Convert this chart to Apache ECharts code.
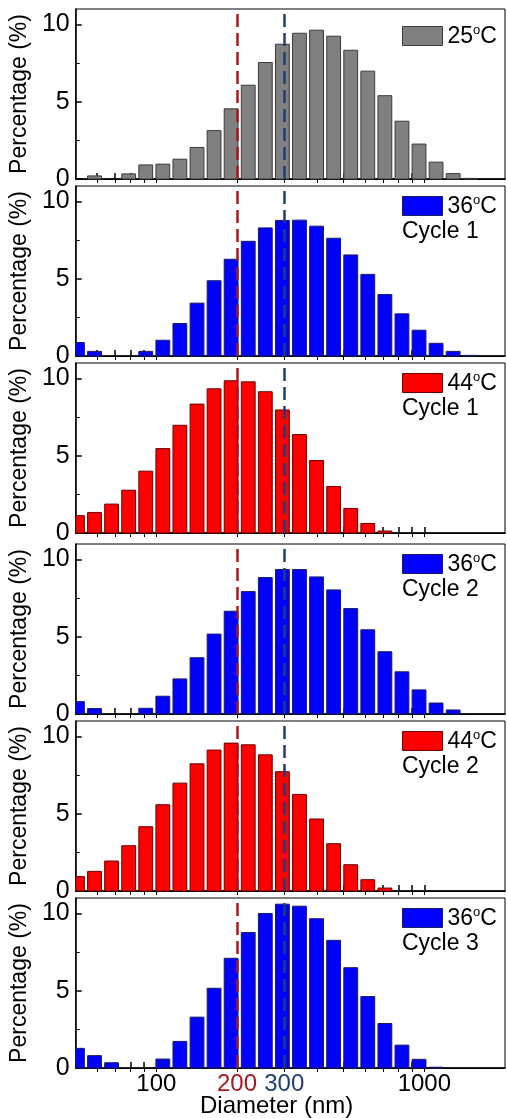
<!DOCTYPE html>
<html>
<head>
<meta charset="utf-8">
<script src="https://cdn.jsdelivr.net/npm/echarts@6/dist/echarts.min.js"></script>
<style>
  html, body { margin: 0; padding: 0; background: #fff; }
  #chart { width: 507px; height: 1118px; }
</style>
</head>
<body>
<div id="chart"></div>
<script>
  // bin centres (nm), log spaced
  const sizes = [50.75, 58.77, 68.06, 78.82, 91.28, 105.7, 122.4, 141.8, 164.2, 190.1, 220.2, 255.0,
    295.3, 342.0, 396.1, 458.7, 531.2, 615.1, 712.4, 825.0, 955.4, 1106, 1281, 1484];

  const t25 = [0, 0.2, 0, 0.33, 0.91, 0.96, 1.28, 2.04, 3.13, 4.54, 6.07, 7.54, 8.72, 9.43, 9.63, 9.24, 8.33, 6.98, 5.39, 3.74, 2.26, 1.09, 0.35, 0.04];
  const t36c1 = [0.87, 0.30, 0, 0, 0.30, 1.02, 2.1, 3.42, 4.87, 6.26, 7.42, 8.29, 8.77, 8.79, 8.4, 7.62, 6.54, 5.28, 3.98, 2.73, 1.67, 0.82, 0.30, 0.04];
  const t44c1 = [1.12, 1.33, 1.87, 2.77, 4.0, 5.46, 6.97, 8.34, 9.33, 9.85, 9.78, 9.14, 7.96, 6.37, 4.69, 3.01, 1.59, 0.62, 0.13, 0, 0, 0, 0, 0];
  const t36c2 = [0.8, 0.35, 0, 0, 0.37, 1.15, 2.27, 3.64, 5.17, 6.65, 7.92, 8.83, 9.35, 9.35, 8.87, 8.03, 6.82, 5.45, 4.03, 2.73, 1.56, 0.71, 0.26, 0];
  const t44c2 = [0.93, 1.27, 1.94, 2.93, 4.16, 5.58, 6.98, 8.23, 9.12, 9.57, 9.46, 8.81, 7.72, 6.25, 4.66, 3.06, 1.70, 0.73, 0.19, 0, 0, 0, 0, 0];
  const t36c3 = [1.27, 0.8, 0.34, 0, 0, 0.58, 1.72, 3.29, 5.16, 7.1, 8.77, 10.0, 10.6, 10.47, 9.66, 8.26, 6.49, 4.62, 2.88, 1.48, 0.56, 0.05, 0, 0];

  const xTicks = [60, 70, 80, 90, 100, 200, 300, 400, 500, 600, 700, 800, 900, 1000];
  const xLabels = [100, 200, 300, 1000];
  const yTicks = [0, 5, 10];
  const yMinorTicks = [2.5, 7.5];
  const markers = [200, 300];

  const panels = [
    { temp: '25', cycle: '', data: t25, fill: '#808080', edge: '#3a3a3a' },
    { temp: '36', cycle: 'Cycle 1', data: t36c1, fill: '#0000ff', edge: '#1a1a66' },
    { temp: '44', cycle: 'Cycle 1', data: t44c1, fill: '#ff0000', edge: '#6a0000' },
    { temp: '36', cycle: 'Cycle 2', data: t36c2, fill: '#0000ff', edge: '#1a1a66' },
    { temp: '44', cycle: 'Cycle 2', data: t44c2, fill: '#ff0000', edge: '#6a0000' },
    { temp: '36', cycle: 'Cycle 3', data: t36c3, fill: '#0000ff', edge: '#1a1a66' }
  ];
  const tops = [9, 186, 363, 544, 721, 898];
  const H = 170;
  const FONT = "'Liberation Sans', Arial, sans-serif";
  const HALF = 0.0637 * 0.405; // half bar width in log10 units

  const grid = [], xAxis = [], yAxis = [], series = [], legend = [], graphic = [];

  panels.forEach((p, i) => {
    const last = i === panels.length - 1;
    grid.push({ left: 74, right: 2, top: tops[i], height: H, show: true, borderColor: '#000', borderWidth: 1 });
    // bottom
    xAxis.push({
      type: 'log', gridIndex: i, min: 50, max: 2000, position: 'bottom',
      axisLine: { lineStyle: { color: '#000', width: 1.5 } },
      axisTick: { inside: true, length: 6, customValues: xTicks, lineStyle: { color: '#000', width: 1.5 } },
      axisLabel: {
        show: last, customValues: xLabels, margin: 4, fontSize: 24, fontFamily: FONT, color: '#000',
        formatter: v => v === 200 ? '{r|200}' : v === 300 ? '{b|300}' : String(v),
        rich: {
          r: { color: '#a8181c', fontSize: 24, fontFamily: FONT },
          b: { color: '#1f3d7a', fontSize: 24, fontFamily: FONT }
        }
      },
      splitLine: { show: false }
    });
    // top mirror
    xAxis.push({
      type: 'log', gridIndex: i, min: 50, max: 2000, position: 'top',
      axisLine: { lineStyle: { color: '#000', width: 1 } },
      axisTick: { inside: true, length: 4, customValues: xTicks, lineStyle: { color: '#000' } },
      axisLabel: { show: false }, splitLine: { show: false }
    });
    yAxis.push({
      type: 'value', gridIndex: i, min: 0, max: 11,
      name: 'Percentage (%)', nameLocation: 'middle', nameGap: 42,
      nameTextStyle: { fontSize: 23, fontFamily: FONT, color: '#000' },
      axisLine: { lineStyle: { color: '#000', width: 1.5 } },
      axisTick: { inside: true, length: 6, customValues: yTicks, lineStyle: { color: '#000', width: 1.5 } },
      axisLabel: { customValues: yTicks, margin: 6, fontSize: 25, fontFamily: FONT, color: '#000' },
      splitLine: { show: false }
    });
    yAxis.push({
      type: 'value', gridIndex: i, min: 0, max: 11, position: 'left',
      axisLine: { show: false },
      axisTick: { inside: true, length: 4, customValues: yMinorTicks, lineStyle: { color: '#000' } },
      axisLabel: { show: false }, splitLine: { show: false }
    });

    const name = p.temp + '°C' + (p.cycle ? ' ' + p.cycle : '');
    series.push({
      type: 'custom', name: name,
      xAxisIndex: i * 2, yAxisIndex: i * 2,
      data: sizes.map((s, k) => [s, p.data[k]]),
      itemStyle: { color: p.fill, borderColor: p.edge },
      renderItem: (params, api) => {
        const c = api.value(0), v = api.value(1);
        if (!v) return null;
        const p0 = api.coord([c * Math.pow(10, -HALF), 0]);
        const p1 = api.coord([c * Math.pow(10, HALF), v]);
        const cs = params.coordSys;
        const shape = echarts.graphic.clipRectByRect(
          { x: p0[0], y: p1[1], width: p1[0] - p0[0], height: p0[1] - p1[1] },
          { x: cs.x, y: cs.y, width: cs.width, height: cs.height }
        );
        if (!shape) return null;
        return { type: 'rect', shape: shape, style: { fill: p.fill, stroke: p.edge, lineWidth: 1 } };
      },
      markLine: {
        silent: true, symbol: 'none', label: { show: false },
        data: [
          { xAxis: markers[0], lineStyle: { color: '#a8181c', type: [13, 6], width: 2.5 } },
          { xAxis: markers[1], lineStyle: { color: '#1f3d7a', type: [13, 6], width: 2.5 } }
        ]
      },
      z: 2
    });

    legend.push({
      data: [{ name: name, icon: 'rect', itemStyle: { color: p.fill, borderColor: p.edge, borderWidth: 1 } }],
      left: 402, top: tops[i] + (i === 0 ? 15 : 8), padding: 0,
      itemWidth: 40, itemHeight: 19, selectedMode: false,
      formatter: () => '{t|' + p.temp + '}{s|o}{t|C}',
      textStyle: {
        fontSize: 23, fontFamily: FONT, color: '#000',
        rich: {
          t: { fontSize: 23, fontFamily: FONT, color: '#000', verticalAlign: 'bottom', lineHeight: 24 },
          s: { fontSize: 13, fontFamily: FONT, color: '#000', verticalAlign: 'top', lineHeight: 24 }
        }
      }
    });
    if (p.cycle) {
      graphic.push({
        type: 'text', left: 402, top: tops[i] + 34,
        style: { text: p.cycle, fontSize: 23, fontFamily: FONT, fill: '#000' }
      });
    }
  });

  graphic.push({
    type: 'text', left: 200, top: 1094,
    style: { text: 'Diameter (nm)', fontSize: 24, fontFamily: FONT, fill: '#000' }
  });

  const chart = echarts.init(document.getElementById('chart'));
  chart.setOption({
    animation: false,
    grid: grid,
    xAxis: xAxis,
    yAxis: yAxis,
    legend: legend,
    graphic: graphic,
    series: series
  });
</script>
</body>
</html>
